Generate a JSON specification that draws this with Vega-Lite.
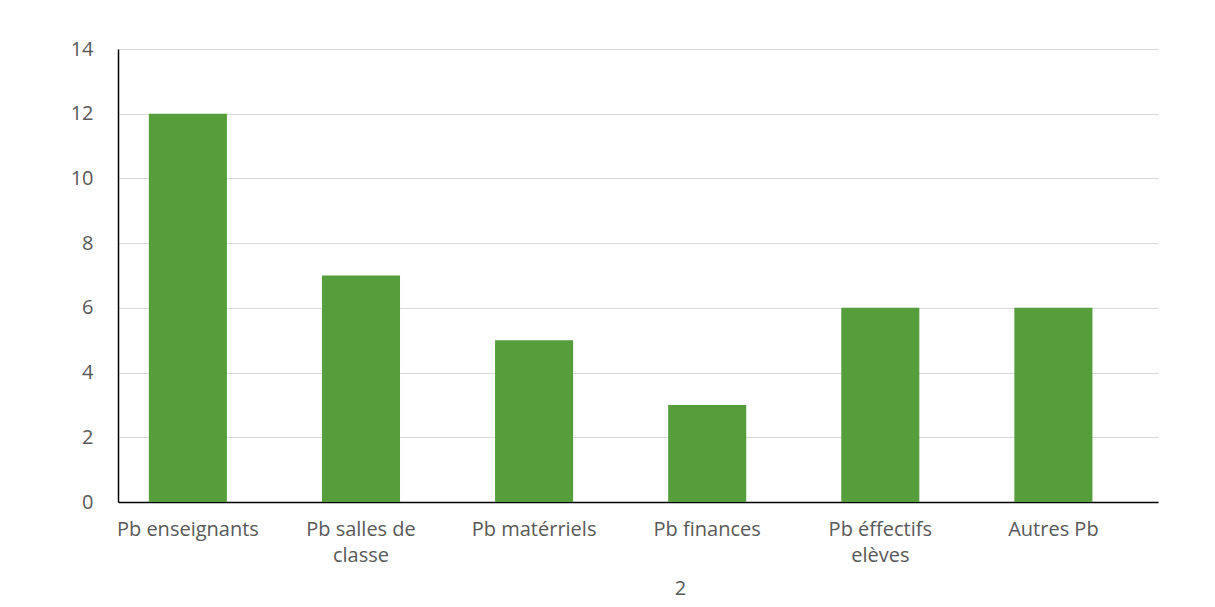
{
  "$schema": "https://vega.github.io/schema/vega-lite/v6.json",
  "width": 1040,
  "height": 453,
  "autosize": {"type": "none"},
  "padding": {"left": 118, "top": 49, "right": 57, "bottom": 105},
  "background": "white",
  "data": {
    "values": [
      {"cat": "Pb enseignants", "val": 12},
      {"cat": "Pb salles de|classe", "val": 7},
      {"cat": "Pb matérriels", "val": 5},
      {"cat": "Pb finances", "val": 3},
      {"cat": "Pb éffectifs|elèves", "val": 6},
      {"cat": "Autres Pb", "val": 6}
    ]
  },
  "mark": {"type": "bar", "color": "#559e3b"},
  "encoding": {
    "x": {
      "field": "cat",
      "type": "nominal",
      "sort": null,
      "scale": {"paddingInner": 0.549, "paddingOuter": 0.2785, "align": 0.32},
      "axis": {
        "title": "2",
        "labelAngle": 0,
        "labelExpr": "split(datum.label, '|')",
        "labelLineHeight": 26,
        "labelPadding": 27,
        "labelBaseline": "middle",
        "ticks": false,
        "domainColor": "#000000",
        "domainWidth": 1.5,
        "titleX": 562,
        "titleY": 86,
        "titleBaseline": "middle",
        "titleFontWeight": "normal"
      }
    },
    "y": {
      "field": "val",
      "type": "quantitative",
      "scale": {"domain": [0, 14]},
      "axis": {
        "title": null,
        "values": [0, 2, 4, 6, 8, 10, 12, 14],
        "ticks": false,
        "labelPadding": 25,
        "domainColor": "#000000",
        "domainWidth": 1.5,
        "gridColor": "#d9d9d9",
        "gridWidth": 1
      }
    }
  },
  "config": {
    "view": {"stroke": null},
    "font": "Open Sans",
    "axis": {
      "labelFont": "Open Sans",
      "labelFontSize": 20,
      "labelColor": "#595959",
      "titleFont": "Open Sans",
      "titleFontSize": 20,
      "titleColor": "#595959"
    }
  }
}
